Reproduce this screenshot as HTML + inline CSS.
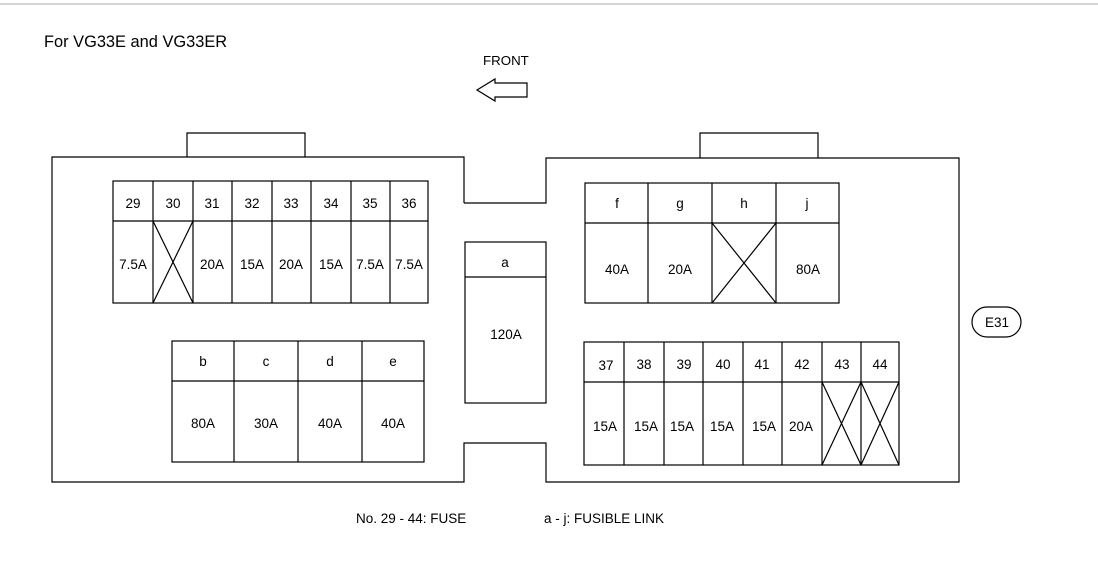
<!DOCTYPE html>
<html><head><meta charset="utf-8"><style>
html,body{margin:0;padding:0;background:#fff;}
svg{display:block;font-family:"Liberation Sans",sans-serif;}
</style></head><body>
<svg width="1098" height="577" viewBox="0 0 1098 577" xmlns="http://www.w3.org/2000/svg">
<line x1="0" y1="4" x2="1098" y2="4" stroke="#aaa" stroke-width="1"/>
<text x="44" y="47" font-size="16.4" fill="#000">For VG33E and VG33ER</text>
<text x="483" y="65" font-size="13.3" fill="#000">FRONT</text>
<polygon points="477,90 495,79 495,83 527,83 527,97 495,97 495,101" fill="none" stroke="#000" stroke-width="1.2"/>
<g fill="none" stroke="#000" stroke-width="1.2">
<path d="M187,157 V133 H305 V157"/>
<path d="M464,203 V157 H52 V482 H464 V443 H546 V482 H959 V158 H546 V203 H464"/>
<path d="M700,158 V133 H818 V158"/>
<rect x="113" y="181" width="315" height="122"/>
<line x1="113" y1="221" x2="428" y2="221"/>
<path d="M153,181V303M193,181V303M232,181V303M272,181V303M311,181V303M351,181V303M390,181V303"/>
<path d="M153,221L193,303M193,221L153,303"/>
<rect x="172" y="341" width="252" height="121"/>
<line x1="172" y1="381" x2="424" y2="381"/>
<path d="M234,341V462M298,341V462M362,341V462"/>
<rect x="465" y="242" width="81" height="161"/>
<line x1="465" y1="277" x2="546" y2="277"/>
<rect x="585" y="183" width="254" height="120"/>
<line x1="585" y1="223" x2="839" y2="223"/>
<path d="M648,183V303M712,183V303M776,183V303"/>
<path d="M712,223L776,303M776,223L712,303"/>
<rect x="584" y="342" width="315" height="123"/>
<line x1="584" y1="382" x2="899" y2="382"/>
<path d="M624,342V465M664,342V465M703,342V465M743,342V465M782,342V465M822,342V465M861,342V465"/>
<path d="M822,382L861,465M861,382L822,465M861,382L899,465M899,382L861,465"/>
<rect x="972" y="307" width="49" height="30" rx="15" ry="15"/>
</g>
<g font-size="13.5" fill="#000" text-anchor="middle">
<text x="133" y="208">29</text><text x="173" y="208">30</text><text x="212" y="208">31</text><text x="252" y="208">32</text><text x="291" y="208">33</text><text x="331" y="208">34</text><text x="370" y="208">35</text><text x="409" y="208">36</text>
<text x="133" y="269">7.5A</text><text x="212" y="269">20A</text><text x="252" y="269">15A</text><text x="291" y="269">20A</text><text x="331" y="269">15A</text><text x="370" y="269">7.5A</text><text x="409" y="269">7.5A</text>
<text x="203" y="366">b</text><text x="266" y="366">c</text><text x="330" y="366">d</text><text x="393" y="366">e</text>
<text x="203" y="428">80A</text><text x="266" y="428">30A</text><text x="330" y="428">40A</text><text x="393" y="428">40A</text>
<text x="505" y="267">a</text><text x="506" y="339">120A</text>
<text x="617" y="208">f</text><text x="680" y="208">g</text><text x="744" y="208">h</text><text x="807" y="208">j</text>
<text x="617" y="274">40A</text><text x="680" y="274">20A</text><text x="808" y="274">80A</text>
<text x="606" y="370">37</text><text x="644" y="369">38</text><text x="684" y="369">39</text><text x="723" y="369">40</text><text x="762" y="369">41</text><text x="802" y="369">42</text><text x="842" y="369">43</text><text x="880" y="369">44</text>
<text x="605" y="431">15A</text><text x="646" y="431">15A</text><text x="682" y="431">15A</text><text x="722" y="431">15A</text><text x="764" y="431">15A</text><text x="801" y="431">20A</text>
<text x="997" y="327">E31</text>
</g>
<text x="356" y="523" font-size="13.5" fill="#000">No. 29 - 44: FUSE</text>
<text x="544" y="523" font-size="13.5" fill="#000">a - j: FUSIBLE LINK</text>
</svg>
</body></html>
